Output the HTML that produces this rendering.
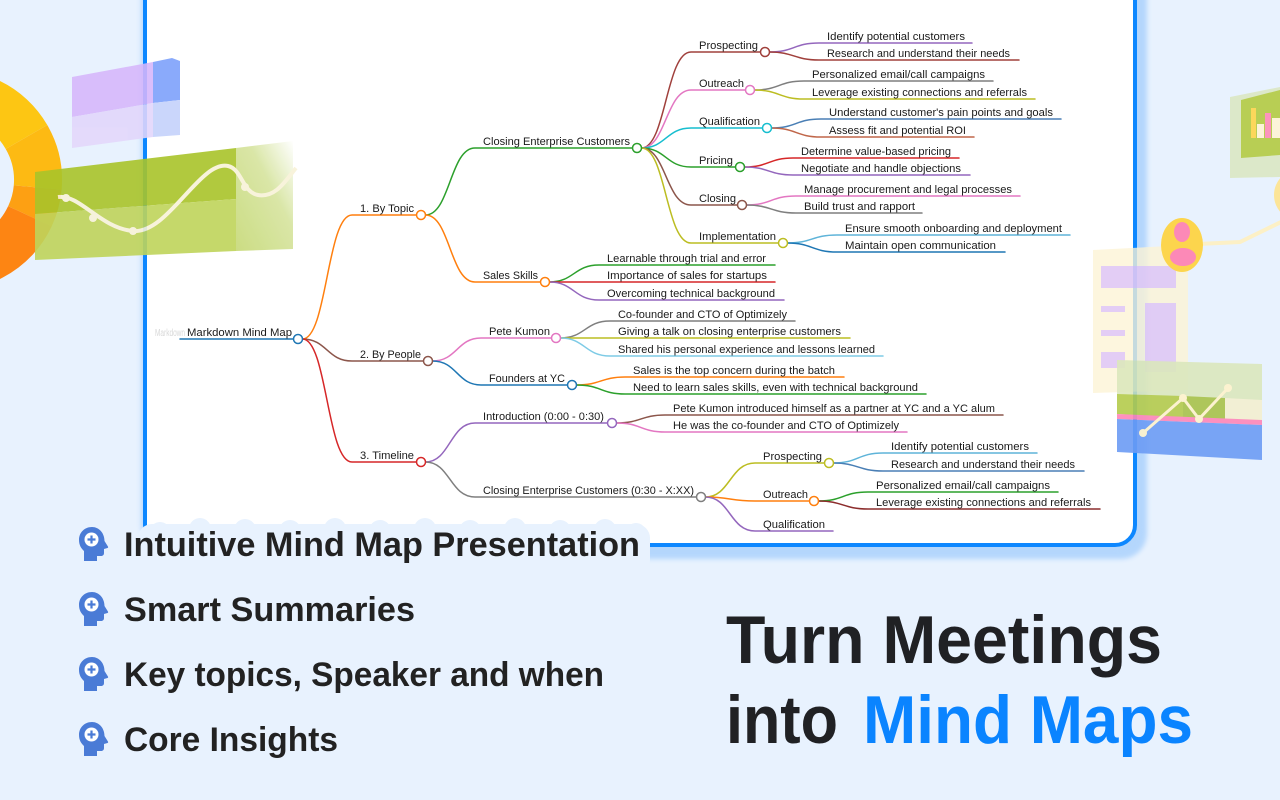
<!DOCTYPE html>
<html>
<head>
<meta charset="utf-8">
<style>
  html,body{margin:0;padding:0;}
  body{width:1280px;height:800px;overflow:hidden;background:#e8f2fe;position:relative;font-family:"Liberation Sans",Arial,sans-serif;}
  .card{position:absolute;left:143px;top:-40px;width:994px;height:587px;box-sizing:border-box;background:#fff;border:4px solid #0d87ff;border-radius:22px;box-shadow:0 0 5px 2px rgba(179,214,253,0.8),6px 8px 5px 4px #b5d7fd;}
  svg{position:absolute;left:0;top:0;}
</style>
</head>
<body>
<div class="card"></div>
<svg width="1280" height="800" viewBox="0 0 1280 800" xmlns="http://www.w3.org/2000/svg">
  <!-- LEFT DECORATIONS -->
  <g opacity="0.92">
    <g fill="none" stroke-width="48">
      <path d="M-62.9 95.3 A86 86 0 0 1 26.5 137" stroke="#ffc300"/>
      <path d="M26.5 137 A86 86 0 0 1 37.7 187.5" stroke="#ffb600"/>
      <path d="M37.7 187.5 A86 86 0 0 1 29.9 216.3" stroke="#ff9a00"/>
      <path d="M29.9 216.3 A86 86 0 0 1 -62.9 264.7" stroke="#ff7c00"/>
    </g>
  </g>
  <g opacity="0.88">
    <polygon points="72,77 153,62 153,103 72,117" fill="#d6b6fb"/>
    <polygon points="72,117 153,103 153,137 72,148" fill="#e2d6fb"/>
    <polygon points="153,62 172,58 180,61 180,100 153,103" fill="#7a9ffb"/>
    <polygon points="153,103 180,100 180,135 153,137" fill="#c3d1fb"/>
  </g>
  <defs>
    <linearGradient id="gfade" x1="0" y1="1" x2="1" y2="0">
      <stop offset="0" stop-color="#c6d976"/>
      <stop offset="0.6" stop-color="#d6e49e"/>
      <stop offset="1" stop-color="#ffffff"/>
    </linearGradient>
  </defs>
  <g opacity="0.9">
    <polygon points="35,172 236,148 236,199 35,214" fill="#a9c42a"/>
    <polygon points="35,214 236,199 236,251 35,260" fill="#bfd45a"/>
    <polygon points="236,148 293,141 293,249 236,251" fill="url(#gfade)"/>
    <path d="M58 197 C80 194 100 228 133 231 C168 234 200 160 228 166 C242 169 242 192 258 195 C276 198 286 180 296 168" fill="none" stroke="#f8f2d8" stroke-width="4"/>
    <circle cx="66" cy="198" r="4" fill="#f8f2d8"/>
    <circle cx="93" cy="218" r="4" fill="#f8f2d8"/>
    <circle cx="133" cy="231" r="4" fill="#f8f2d8"/>
    <circle cx="245" cy="187" r="4" fill="#f8f2d8"/>
  </g>

  <!-- RIGHT DECORATIONS -->
  <g opacity="0.9">
    <polygon points="1230,97 1280,87 1280,177 1230,178" fill="#dbe8c4"/>
    <polygon points="1241,100 1280,90 1280,155 1241,158" fill="#b3cb42"/>
    <rect x="1251" y="108" width="5" height="30" fill="#ffd54a"/>
    <rect x="1257" y="124" width="7" height="14" fill="#fff5d6"/>
    <rect x="1265" y="113" width="6" height="25" fill="#ff8ab5"/>
    <rect x="1272" y="118" width="8" height="20" fill="#fff5d6"/>
    <circle cx="1300" cy="195" r="26" fill="#ffe48e"/>
    <polyline points="1283,221 1240,242 1198,244" fill="none" stroke="#fff0c0" stroke-width="4"/>
    <polygon points="1093,250 1188,245 1188,390 1093,393" fill="#fdf3d4" opacity="0.85"/>
    <rect x="1101" y="266" width="75" height="22" fill="#e0c8f5"/>
    <rect x="1101" y="306" width="24" height="6" fill="#e0c8f5"/>
    <rect x="1101" y="330" width="24" height="6" fill="#e0c8f5"/>
    <rect x="1101" y="352" width="24" height="16" fill="#e0c8f5"/>
    <rect x="1145" y="303" width="31" height="69" fill="#e0c8f5"/>
    <ellipse cx="1182" cy="245" rx="21" ry="27" fill="#ffd23a"/>
    <ellipse cx="1182" cy="232" rx="8" ry="10" fill="#ff7eb0"/>
    <ellipse cx="1183" cy="257" rx="13" ry="9" fill="#ff7eb0"/>
    <polygon points="1117,360 1262,364 1262,420 1117,414" fill="#d9e6b6" opacity="0.9"/>
    <polygon points="1117,394 1183,396 1183,418 1117,414" fill="#b4cb4c"/>
    <polygon points="1183,396 1225,398 1225,420 1183,418" fill="#a8c24a"/>
    <polygon points="1225,398 1262,400 1262,420 1225,420" fill="#f4efd0"/>
    <polygon points="1117,414 1262,420 1262,425 1117,419" fill="#ff86b8"/>
    <polygon points="1117,419 1262,425 1262,460 1117,452" fill="#6c9cf5"/>
    <polyline points="1143,433 1183,398 1199,419 1228,388" fill="none" stroke="#fff3cc" stroke-width="3"/>
    <circle cx="1143" cy="433" r="4" fill="#fff3cc"/>
    <circle cx="1183" cy="398" r="4" fill="#fff3cc"/>
    <circle cx="1199" cy="419" r="4" fill="#fff3cc"/>
    <circle cx="1228" cy="388" r="4" fill="#fff3cc"/>
  </g>

  <!-- MIND MAP CONNECTORS -->
  <g fill="none" stroke-width="1.5" stroke-linecap="round">
    <path d="M180 339 H293.5" stroke="#1f77b4"/>
    <path d="M302.5 339 C327 339 327 215 352 215 H416.5" stroke="#ff7f0e"/>
    <path d="M302.5 339 C327 339 327 361 352 361 H423.5" stroke="#8c564b"/>
    <path d="M302.5 339 C327 339 327 462 352 462 H416.5" stroke="#d62728"/>

    <path d="M425.5 215 C450 215 450 148 475 148 H632.5" stroke="#2ca02c"/>
    <path d="M425.5 215 C450 215 450 282 475 282 H540.5" stroke="#ff7f0e"/>
    <path d="M432.5 361 C457 361 457 338 481 338 H551.5" stroke="#e377c2"/>
    <path d="M432.5 361 C457 361 457 385 481 385 H567.5" stroke="#1f77b4"/>
    <path d="M425.5 462 C450 462 450 423 475 423 H607.5" stroke="#9467bd"/>
    <path d="M425.5 462 C450 462 450 497 475 497 H696.5" stroke="#7f7f7f"/>

    <path d="M641.5 148 C666 148 666 52 691 52 H760.5" stroke="#a0403c"/>
    <path d="M641.5 148 C666 148 666 90 691 90 H745.5" stroke="#e377c2"/>
    <path d="M641.5 148 C666 148 666 128 691 128 H762.5" stroke="#17becf"/>
    <path d="M641.5 148 C666 148 666 167 691 167 H735.5" stroke="#2ca02c"/>
    <path d="M641.5 148 C666 148 666 205 691 205 H737.5" stroke="#8c564b"/>
    <path d="M641.5 148 C666 148 666 243 691 243 H778.5" stroke="#bcbd22"/>

    <path d="M769.5 52 C794 52 794 43 819 43 H972" stroke="#9467bd"/>
    <path d="M769.5 52 C794 52 794 60 819 60 H1019" stroke="#a0403c"/>
    <path d="M754.5 90 C779 90 779 81 804 81 H993" stroke="#7f7f7f"/>
    <path d="M754.5 90 C779 90 779 99 804 99 H1035" stroke="#bcbd22"/>
    <path d="M771.5 128 C796 128 796 119 821 119 H1061" stroke="#4a7fb5"/>
    <path d="M771.5 128 C796 128 796 137 821 137 H974" stroke="#c0674a"/>
    <path d="M744.5 167 C769 167 769 158 793 158 H959" stroke="#d62728"/>
    <path d="M744.5 167 C769 167 769 175 793 175 H970" stroke="#9467bd"/>
    <path d="M746.5 205 C771 205 771 196 796 196 H1020" stroke="#e377c2"/>
    <path d="M746.5 205 C771 205 771 213 796 213 H922" stroke="#7f7f7f"/>
    <path d="M787.5 243 C812 243 812 235 837 235 H1070" stroke="#5fb4d9"/>
    <path d="M787.5 243 C812 243 812 252 837 252 H1005" stroke="#1f77b4"/>

    <path d="M549.5 282 C574 282 574 265 599 265 H775" stroke="#2ca02c"/>
    <path d="M549.5 282 C574 282 574 282 599 282 H775" stroke="#d62728"/>
    <path d="M549.5 282 C574 282 574 300 599 300 H784" stroke="#9467bd"/>

    <path d="M560.5 338 C585 338 585 321 610 321 H795" stroke="#7f7f7f"/>
    <path d="M560.5 338 C585 338 585 338 610 338 H850" stroke="#bcbd22"/>
    <path d="M560.5 338 C585 338 585 356 610 356 H883" stroke="#7ecbe6"/>

    <path d="M576.5 385 C601 385 601 377 625 377 H844" stroke="#ff7f0e"/>
    <path d="M576.5 385 C601 385 601 394 625 394 H926" stroke="#2ca02c"/>

    <path d="M616.5 423 C641 423 641 415 665 415 H1003" stroke="#8c564b"/>
    <path d="M616.5 423 C641 423 641 432 665 432 H907" stroke="#e377c2"/>

    <path d="M705.5 497 C730 497 730 463 755 463 H824.5" stroke="#bcbd22"/>
    <path d="M705.5 497 C730 497 730 501 755 501 H809.5" stroke="#ff7f0e"/>
    <path d="M705.5 497 C730 497 730 531 755 531 H833" stroke="#9467bd"/>

    <path d="M833.5 463 C858 463 858 453 883 453 H1037" stroke="#5fb4d9"/>
    <path d="M833.5 463 C858 463 858 471 883 471 H1084" stroke="#4a7fb5"/>
    <path d="M818.5 501 C843 501 843 492 868 492 H1058" stroke="#2ca02c"/>
    <path d="M818.5 501 C843 501 843 509 868 509 H1100" stroke="#8c2d2d"/>
  </g>

  <!-- NODE CIRCLES -->
  <g fill="#fff" stroke-width="1.5">
    <circle cx="298" cy="339" r="4.5" stroke="#1f77b4"/>
    <circle cx="421" cy="215" r="4.5" stroke="#ff7f0e"/>
    <circle cx="428" cy="361" r="4.5" stroke="#8c564b"/>
    <circle cx="421" cy="462" r="4.5" stroke="#d62728"/>
    <circle cx="637" cy="148" r="4.5" stroke="#2ca02c"/>
    <circle cx="545" cy="282" r="4.5" stroke="#ff7f0e"/>
    <circle cx="556" cy="338" r="4.5" stroke="#e377c2"/>
    <circle cx="572" cy="385" r="4.5" stroke="#1f77b4"/>
    <circle cx="612" cy="423" r="4.5" stroke="#9467bd"/>
    <circle cx="701" cy="497" r="4.5" stroke="#7f7f7f"/>
    <circle cx="765" cy="52" r="4.5" stroke="#a0403c"/>
    <circle cx="750" cy="90" r="4.5" stroke="#e377c2"/>
    <circle cx="767" cy="128" r="4.5" stroke="#17becf"/>
    <circle cx="740" cy="167" r="4.5" stroke="#2ca02c"/>
    <circle cx="742" cy="205" r="4.5" stroke="#8c564b"/>
    <circle cx="783" cy="243" r="4.5" stroke="#bcbd22"/>
    <circle cx="829" cy="463" r="4.5" stroke="#bcbd22"/>
    <circle cx="814" cy="501" r="4.5" stroke="#ff7f0e"/>
  </g>

  <!-- MIND MAP LABELS -->
  <g font-family="Liberation Sans, Arial, sans-serif" font-size="11" fill="#1a1a1a" lengthAdjust="spacingAndGlyphs">
    <text x="155" y="336" fill="#d8d8d8" font-size="10" textLength="30" lengthAdjust="spacingAndGlyphs">Markdown</text>
    <text x="187" y="336" textLength="105" lengthAdjust="spacingAndGlyphs">Markdown Mind Map</text>
    <text x="360" y="212" textLength="54" lengthAdjust="spacingAndGlyphs">1. By Topic</text>
    <text x="360" y="358" textLength="61" lengthAdjust="spacingAndGlyphs">2. By People</text>
    <text x="360" y="459" textLength="54" lengthAdjust="spacingAndGlyphs">3. Timeline</text>
    <text x="483" y="145" textLength="147" lengthAdjust="spacingAndGlyphs">Closing Enterprise Customers</text>
    <text x="483" y="279" textLength="55" lengthAdjust="spacingAndGlyphs">Sales Skills</text>
    <text x="489" y="335" textLength="61" lengthAdjust="spacingAndGlyphs">Pete Kumon</text>
    <text x="489" y="382" textLength="76" lengthAdjust="spacingAndGlyphs">Founders at YC</text>
    <text x="483" y="420" textLength="121" lengthAdjust="spacingAndGlyphs">Introduction (0:00 - 0:30)</text>
    <text x="483" y="494" textLength="211" lengthAdjust="spacingAndGlyphs">Closing Enterprise Customers (0:30 - X:XX)</text>

    <text x="699" y="49" textLength="59" lengthAdjust="spacingAndGlyphs">Prospecting</text>
    <text x="699" y="87" textLength="45" lengthAdjust="spacingAndGlyphs">Outreach</text>
    <text x="699" y="125" textLength="61" lengthAdjust="spacingAndGlyphs">Qualification</text>
    <text x="699" y="164" textLength="34" lengthAdjust="spacingAndGlyphs">Pricing</text>
    <text x="699" y="202" textLength="37" lengthAdjust="spacingAndGlyphs">Closing</text>
    <text x="699" y="240" textLength="77" lengthAdjust="spacingAndGlyphs">Implementation</text>

    <text x="827" y="40" textLength="138" lengthAdjust="spacingAndGlyphs">Identify potential customers</text>
    <text x="827" y="57" textLength="183" lengthAdjust="spacingAndGlyphs">Research and understand their needs</text>
    <text x="812" y="78" textLength="173" lengthAdjust="spacingAndGlyphs">Personalized email/call campaigns</text>
    <text x="812" y="96" textLength="215" lengthAdjust="spacingAndGlyphs">Leverage existing connections and referrals</text>
    <text x="829" y="116" textLength="224" lengthAdjust="spacingAndGlyphs">Understand customer's pain points and goals</text>
    <text x="829" y="134" textLength="137" lengthAdjust="spacingAndGlyphs">Assess fit and potential ROI</text>
    <text x="801" y="155" textLength="150" lengthAdjust="spacingAndGlyphs">Determine value-based pricing</text>
    <text x="801" y="172" textLength="160" lengthAdjust="spacingAndGlyphs">Negotiate and handle objections</text>
    <text x="804" y="193" textLength="208" lengthAdjust="spacingAndGlyphs">Manage procurement and legal processes</text>
    <text x="804" y="210" textLength="111" lengthAdjust="spacingAndGlyphs">Build trust and rapport</text>
    <text x="845" y="232" textLength="217" lengthAdjust="spacingAndGlyphs">Ensure smooth onboarding and deployment</text>
    <text x="845" y="249" textLength="151" lengthAdjust="spacingAndGlyphs">Maintain open communication</text>

    <text x="607" y="262" textLength="159" lengthAdjust="spacingAndGlyphs">Learnable through trial and error</text>
    <text x="607" y="279" textLength="160" lengthAdjust="spacingAndGlyphs">Importance of sales for startups</text>
    <text x="607" y="297" textLength="168" lengthAdjust="spacingAndGlyphs">Overcoming technical background</text>

    <text x="618" y="318" textLength="169" lengthAdjust="spacingAndGlyphs">Co-founder and CTO of Optimizely</text>
    <text x="618" y="335" textLength="223" lengthAdjust="spacingAndGlyphs">Giving a talk on closing enterprise customers</text>
    <text x="618" y="353" textLength="257" lengthAdjust="spacingAndGlyphs">Shared his personal experience and lessons learned</text>

    <text x="633" y="374" textLength="202" lengthAdjust="spacingAndGlyphs">Sales is the top concern during the batch</text>
    <text x="633" y="391" textLength="285" lengthAdjust="spacingAndGlyphs">Need to learn sales skills, even with technical background</text>

    <text x="673" y="412" textLength="322" lengthAdjust="spacingAndGlyphs">Pete Kumon introduced himself as a partner at YC and a YC alum</text>
    <text x="673" y="429" textLength="226" lengthAdjust="spacingAndGlyphs">He was the co-founder and CTO of Optimizely</text>

    <text x="763" y="460" textLength="59" lengthAdjust="spacingAndGlyphs">Prospecting</text>
    <text x="763" y="498" textLength="45" lengthAdjust="spacingAndGlyphs">Outreach</text>
    <text x="763" y="528" textLength="62" lengthAdjust="spacingAndGlyphs">Qualification</text>

    <text x="891" y="450" textLength="138" lengthAdjust="spacingAndGlyphs">Identify potential customers</text>
    <text x="891" y="468" textLength="184" lengthAdjust="spacingAndGlyphs">Research and understand their needs</text>
    <text x="876" y="489" textLength="174" lengthAdjust="spacingAndGlyphs">Personalized email/call campaigns</text>
    <text x="876" y="506" textLength="215" lengthAdjust="spacingAndGlyphs">Leverage existing connections and referrals</text>
  </g>

  <!-- BLOB behind first bullet (covers card bottom-left) -->
  <g fill="#e8f2fe">
    <rect x="138" y="524" width="512" height="50" rx="14"/>
    <circle cx="160" cy="532" r="10"/>
    <circle cx="200" cy="529" r="11"/>
    <circle cx="245" cy="530" r="11"/>
    <circle cx="290" cy="531" r="11"/>
    <circle cx="335" cy="529" r="11"/>
    <circle cx="380" cy="531" r="11"/>
    <circle cx="425" cy="529" r="11"/>
    <circle cx="470" cy="531" r="11"/>
    <circle cx="515" cy="529" r="11"/>
    <circle cx="560" cy="531" r="11"/>
    <circle cx="605" cy="530" r="11"/>
    <circle cx="636" cy="533" r="10"/>
  </g>

  <!-- BULLET ICONS -->
  <g fill="#4a7bd6">
    <g transform="translate(79,527)">
      <path d="M13 0 C5.5 0 0 5.5 0 13 C0 18 2.2 21.5 5 24 L5 34 L18 34 L18 29 L22 29 C24 29 25 27.8 25 26 L25 22 L28.5 21 C29.2 20.8 29.3 20.2 29 19.6 L25.5 14 C25.5 6 20 0 13 0 Z"/>
      <circle cx="12.5" cy="12.5" r="7" fill="#fff"/>
      <path d="M12.5 8.5 V16.5 M8.5 12.5 H16.5" stroke="#4a7bd6" stroke-width="2.2" fill="none"/>
    </g>
    <g transform="translate(79,592)">
      <path d="M13 0 C5.5 0 0 5.5 0 13 C0 18 2.2 21.5 5 24 L5 34 L18 34 L18 29 L22 29 C24 29 25 27.8 25 26 L25 22 L28.5 21 C29.2 20.8 29.3 20.2 29 19.6 L25.5 14 C25.5 6 20 0 13 0 Z"/>
      <circle cx="12.5" cy="12.5" r="7" fill="#fff"/>
      <path d="M12.5 8.5 V16.5 M8.5 12.5 H16.5" stroke="#4a7bd6" stroke-width="2.2" fill="none"/>
    </g>
    <g transform="translate(79,657)">
      <path d="M13 0 C5.5 0 0 5.5 0 13 C0 18 2.2 21.5 5 24 L5 34 L18 34 L18 29 L22 29 C24 29 25 27.8 25 26 L25 22 L28.5 21 C29.2 20.8 29.3 20.2 29 19.6 L25.5 14 C25.5 6 20 0 13 0 Z"/>
      <circle cx="12.5" cy="12.5" r="7" fill="#fff"/>
      <path d="M12.5 8.5 V16.5 M8.5 12.5 H16.5" stroke="#4a7bd6" stroke-width="2.2" fill="none"/>
    </g>
    <g transform="translate(79,722)">
      <path d="M13 0 C5.5 0 0 5.5 0 13 C0 18 2.2 21.5 5 24 L5 34 L18 34 L18 29 L22 29 C24 29 25 27.8 25 26 L25 22 L28.5 21 C29.2 20.8 29.3 20.2 29 19.6 L25.5 14 C25.5 6 20 0 13 0 Z"/>
      <circle cx="12.5" cy="12.5" r="7" fill="#fff"/>
      <path d="M12.5 8.5 V16.5 M8.5 12.5 H16.5" stroke="#4a7bd6" stroke-width="2.2" fill="none"/>
    </g>
  </g>

  <!-- BULLET TEXT -->
  <g font-family="Liberation Sans, Arial, sans-serif" font-size="34" font-weight="bold" fill="#222">
    <text x="124" y="556" textLength="516" lengthAdjust="spacingAndGlyphs">Intuitive Mind Map Presentation</text>
    <text x="124" y="621" textLength="291" lengthAdjust="spacingAndGlyphs">Smart Summaries</text>
    <text x="124" y="686" textLength="480" lengthAdjust="spacingAndGlyphs">Key topics, Speaker and when</text>
    <text x="124" y="751" textLength="214" lengthAdjust="spacingAndGlyphs">Core Insights</text>
  </g>

  <!-- TITLE -->
  <g font-family="Liberation Sans, Arial, sans-serif" font-size="68" font-weight="bold">
    <text x="726" y="663" fill="#202124" textLength="436" lengthAdjust="spacingAndGlyphs">Turn Meetings</text>
    <text x="726" y="743" fill="#202124" textLength="112" lengthAdjust="spacingAndGlyphs">into</text>
    <text x="863" y="743" fill="#0a84ff" textLength="330" lengthAdjust="spacingAndGlyphs">Mind Maps</text>
  </g>
</svg>
</body>
</html>
